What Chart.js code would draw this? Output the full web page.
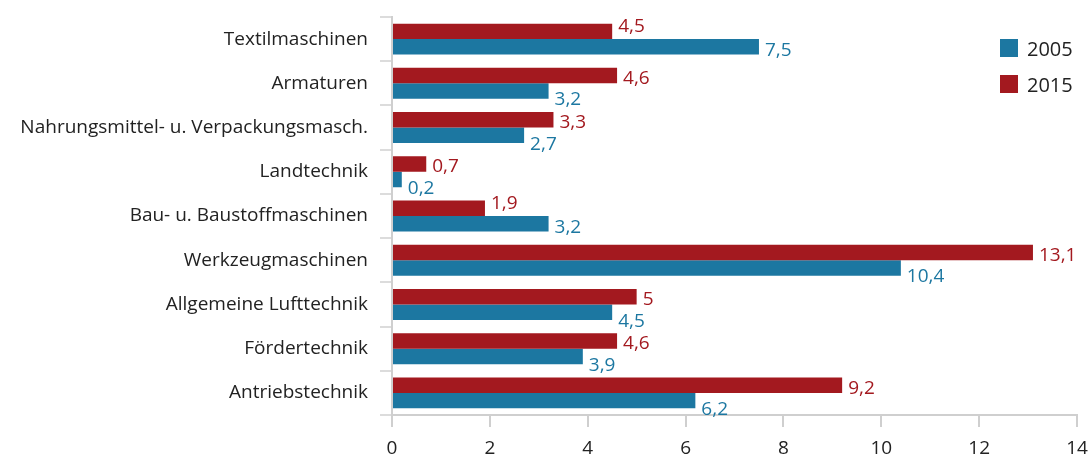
<!DOCTYPE html>
<html>
<head>
<meta charset="utf-8">
<script src="https://cdn.jsdelivr.net/npm/chart.js@4.4.1/dist/chart.umd.min.js"></script>
<style>
  html, body { margin: 0; padding: 0; background: #fff; }
  #wrap { position: relative; width: 1091px; height: 457px; }
  .legend { position: absolute; left: 1000px; font-family: "Open Sans", sans-serif; font-size: 20px; color: #222; }
  .legend div { display: flex; align-items: center; height: 36px; }
  .legend span.box { width: 18px; height: 18px; margin-right: 9px; display: inline-block; }
</style>
</head>
<body>
<div id="wrap">
  <canvas id="myChart" width="1091" height="457"></canvas>
  <div class="legend" style="top: 30px;">
    <div><span class="box" style="background:#1c77a1"></span>2005</div>
    <div><span class="box" style="background:#a3191f"></span>2015</div>
  </div>
</div>
<script>
const categories = [
  "Textilmaschinen",
  "Armaturen",
  "Nahrungsmittel- u. Verpackungsmasch.",
  "Landtechnik",
  "Bau- u. Baustoffmaschinen",
  "Werkzeugmaschinen",
  "Allgemeine Lufttechnik",
  "Fördertechnik",
  "Antriebstechnik",
];
const values2015 = [4.5, 4.6, 3.3, 0.7, 1.9, 13.1, 5, 4.6, 9.2];
const values2005 = [7.5, 3.2, 2.7, 0.2, 3.2, 10.4, 4.5, 3.9, 6.2];
const xTicks = [0, 2, 4, 6, 8, 10, 12, 14];

const RED = "#a3191f";
const BLUE = "#1c77a1";
const FONT = "Open Sans";

// value labels next to the bar ends
// (red label moves up when the blue bar below is longer)
const valueLabels = {
  id: "valueLabels",
  afterDatasetsDraw(chart) {
    const { ctx } = chart;
    const red = chart.data.datasets[0].data;
    const blue = chart.data.datasets[1].data;
    ctx.save();
    ctx.font = "19px '" + FONT + "'";
    ctx.textBaseline = "middle";
    ctx.textAlign = "left";
    chart.data.datasets.forEach((ds, i) => {
      const meta = chart.getDatasetMeta(i);
      ctx.fillStyle = ds.backgroundColor;
      meta.data.forEach((bar, j) => {
        const blueLonger = blue[j] > red[j];
        let shift;
        if (i === 0) shift = blueLonger ? -5 : 3;
        else shift = blueLonger ? 4 : 9;
        const txt = String(ds.data[j]).replace(".", ",");
        ctx.fillText(txt, bar.x + 6, bar.y + shift);
      });
    });
    ctx.restore();
  },
};

// no extra label padding, so the plot area is set by layout.padding only
function noPad(scale) {
  scale.paddingTop = 0;
  scale.paddingBottom = 0;
  scale.paddingLeft = 0;
  scale.paddingRight = 0;
}

const ctx = document.getElementById("myChart");

new Chart(ctx, {
  type: "bar",
  data: {
    labels: categories,
    datasets: [
      { label: "2015", data: values2015, backgroundColor: RED },
      { label: "2005", data: values2005, backgroundColor: BLUE },
    ],
  },
  options: {
    indexAxis: "y",
    responsive: false,
    animation: false,
    datasets: {
      bar: { categoryPercentage: 0.7, barPercentage: 1.0 },
    },
    layout: { padding: { top: 17, right: 14, left: 0, bottom: 0 } },
    scales: {
      x: {
        min: 0,
        max: 14,
        afterBuildTicks(scale) {
          scale.ticks = xTicks.map((v) => ({ value: v }));
        },
        afterFit(scale) {
          scale.height = 42;
          noPad(scale);
        },
        border: { color: "#cfcfcf", width: 2 },
        grid: { drawOnChartArea: false, tickLength: 12, color: "#cfcfcf", lineWidth: 2 },
        ticks: { color: "#222", padding: 10, font: { family: FONT, size: 19 } },
      },
      y: {
        afterFit(scale) {
          scale.width = 392;
          noPad(scale);
        },
        border: { color: "#cfcfcf", width: 2 },
        grid: { drawOnChartArea: false, tickLength: 12, color: "#dcdcdc", lineWidth: 2, offset: true },
        ticks: { color: "#222", padding: 12, font: { family: FONT, size: 19 } },
      },
    },
    plugins: {
      legend: { display: false },
      tooltip: { enabled: false },
    },
  },
  plugins: [valueLabels],
});
</script>
</body>
</html>
